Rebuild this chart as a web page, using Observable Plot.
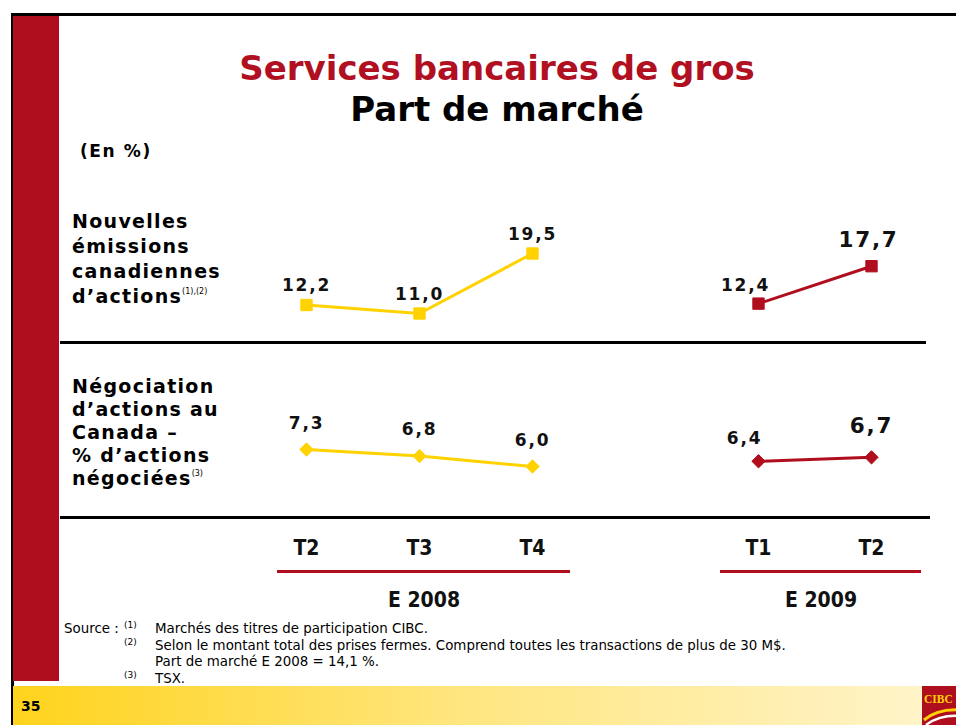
<!DOCTYPE html>
<html>
<head>
<meta charset="utf-8">
<script src="https://cdn.jsdelivr.net/npm/d3@7"></script>
<script src="https://cdn.jsdelivr.net/npm/@observablehq/plot@0.6"></script>
<style>
html, body { margin: 0; padding: 0; background: #fff; }
#slide { position: relative; width: 956px; height: 725px; overflow: hidden; font-family: "DejaVu Sans", Verdana, sans-serif; color: #000; }
.abs { position: absolute; white-space: nowrap; }
.title { left: 97px; width: 800px; text-align: center; font-weight: bold; font-size: 34px; line-height: 34px; }
.lab { left: 72px; font-weight: bold; font-size: 19px; letter-spacing: 1.3px; }
.lab sup { font-size: 8px; font-weight: normal; letter-spacing: 0; vertical-align: 9px; line-height: 0; }
.note { font-size: 13.4px; line-height: 14px; }
.sup { font-size: 9px; line-height: 10px; }
.plotwrap { position: absolute; left: 0; }
.plotwrap svg { overflow: visible; }
</style>
</head>
<body>
<div id="slide">
  <div class="abs" style="left:11px;top:13px;width:945px;height:3px;background:#000"></div>
  <div class="abs" style="left:11px;top:13px;width:2.5px;height:712px;background:#000"></div>
  <div class="abs" style="left:13px;top:16px;width:46px;height:665px;background:#AF0E1F"></div>
  <div class="abs" style="left:13px;top:686px;width:909px;height:39px;background:linear-gradient(to right,#FFD31C,#FFE680 50%,#FFF4C8)"></div>
  <div class="abs" style="left:21px;top:699px;font-weight:bold;font-size:14px;line-height:14px">35</div>
  <svg class="abs" style="left:922px;top:686px" width="34" height="39">
    <rect width="34" height="39" fill="#AF0E1F"/>
    <text x="2" y="17" font-family="Liberation Serif, serif" font-weight="bold" font-size="11.5" fill="#FFD200">CIBC</text>
    <path d="M2 34 Q16 22 40 24" stroke="#FFD200" stroke-width="3" fill="none"/>
    <path d="M4 39 Q18 28 40 30" stroke="#fff" stroke-width="2.5" fill="none"/>
  </svg>

  <div class="abs title" style="top:51px;color:#B0101F">Services bancaires de gros</div>
  <div class="abs title" style="top:92px">Part de marché</div>
  <div class="abs" style="left:80px;top:143px;font-weight:bold;font-size:17px;line-height:17px;letter-spacing:1.6px">(En %)</div>

  <div class="abs lab" style="top:209px;line-height:25px">Nouvelles<br>émissions<br>canadiennes<br>d’actions<sup>(1),(2)</sup></div>
  <div class="abs lab" style="top:375px;line-height:23px">Négociation<br>d’actions au<br>Canada –<br>% d’actions<br>négociées<sup>(3)</sup></div>

  <div class="abs" style="left:60px;top:341px;width:866px;height:3px;background:#000"></div>
  <div class="abs" style="left:60px;top:516px;width:870px;height:3px;background:#000"></div>

  <div class="abs note" style="left:64px;top:622px">Source :</div>
  <div class="abs sup" style="left:124px;top:620px">(1)</div>
  <div class="abs note" style="left:155px;top:622px">Marchés des titres de participation CIBC.</div>
  <div class="abs sup" style="left:124px;top:637px">(2)</div>
  <div class="abs note" style="left:155px;top:639px">Selon le montant total des prises fermes. Comprend toutes les transactions de plus de 30 M$.</div>
  <div class="abs note" style="left:155px;top:655px">Part de marché E 2008 = 14,1 %.</div>
  <div class="abs sup" style="left:124px;top:670px">(3)</div>
  <div class="abs note" style="left:155px;top:672px">TSX.</div>

  <div id="p1" class="plotwrap" style="top:200px"></div>
  <div id="p2" class="plotwrap" style="top:380px"></div>
  <div id="p3" class="plotwrap" style="top:525px"></div>
</div>
<script>
// ---- data ----
const quarters = ["T2 2008", "T3 2008", "T4 2008", "", "T1 2009", "T2 2009"];
const quarterLabels = ["T2", "T3", "T4", "", "T1", "T2"];
const years = ["E 2008", "E 2008", "E 2008", "", "E 2009", "E 2009"];
const fiscalYears = ["E 2008", "E 2009"];
const emissions = [12.2, 11.0, 19.5, null, 12.4, 17.7];     // Nouvelles émissions canadiennes d'actions
const negociation = [7.3, 6.8, 6.0, null, 6.4, 6.7];        // Négociation d'actions au Canada

// ---- drawing ----
const YELLOW = "#FFD200", RED = "#B00E1F";
const fmt = v => d3.format(".1f")(v).replace(".", ",");
const xOpts = {type: "point", domain: quarters, range: [306, 871], padding: 0, axis: null};

function rowsOf(values) {
  return quarters.map((q, i) => ({q, label: quarterLabels[i], year: years[i], v: values[i]}))
                 .filter(d => d.v != null);
}

function panel(values, o) {
  const rows = rowsOf(values);
  const txt = {x: "q", y: "v", text: d => fmt(d.v), fontFamily: "DejaVu Sans", fontWeight: "bold", fill: "#111"};
  return Plot.plot({
    width: 956, height: o.height, margin: 0,
    style: {background: "transparent", letterSpacing: "1.8px"},
    x: xOpts,
    y: {domain: d3.extent(values), range: o.yRange, axis: null},
    color: {domain: fiscalYears, range: [YELLOW, RED]},
    marks: [
      Plot.line(rows, {x: "q", y: "v", z: "year", stroke: "year", strokeWidth: 3}),
      Plot.dot(rows, {x: "q", y: "v", fill: "year", stroke: "year", strokeWidth: 1, symbol: o.symbol, r: o.r}),
      Plot.text(rows.filter(d => d.year === "E 2008"), {...txt, fontSize: 17, dy: o.dy2008}),
      Plot.text(rows.filter(d => d.q === "T1 2009"), {...txt, fontSize: 17, dy: o.dyT1, dx: o.dxT1}),
      Plot.text(rows.filter(d => d.q === "T2 2009"), {...txt, fontSize: 21.5, dy: o.dyT2, dx: o.dxT2})
    ]
  });
}

document.getElementById("p1").append(panel(emissions, {
  height: 140, yRange: [113, 53], symbol: "square", r: 6.4,
  dy2008: -19, dyT1: -18, dxT1: -13, dyT2: -26, dxT2: -3
}));
document.getElementById("p2").append(panel(negociation, {
  height: 110, yRange: [86, 69], symbol: "diamond2", r: 6,
  dy2008: -26, dyT1: -23, dxT1: -14, dyT2: -31, dxT2: 0
}));

// axis: quarters, fiscal-year underlines and labels
const axisRows = quarters.map((q, i) => ({q, label: quarterLabels[i]})).filter(d => d.label);
const groups = fiscalYears.map(y => {
  const qs = quarters.filter((q, i) => years[i] === y);
  return {year: y, first: qs[0], last: qs[qs.length - 1]};
});
const g08 = groups.filter(g => g.year === "E 2008"), g09 = groups.filter(g => g.year === "E 2009");
const axisFont = {fontFamily: "DejaVu Sans Condensed, DejaVu Sans", fontWeight: "bold", fontSize: 21, fill: "#111"};
document.getElementById("p3").append(Plot.plot({
  width: 956, height: 95, margin: 0,
  style: {background: "transparent"},
  x: xOpts,
  y: {type: "point", domain: ["trimestre", "trait", "exercice"], range: [23, 75], padding: 0, axis: null},
  marks: [
    Plot.text(axisRows, {x: "q", y: () => "trimestre", text: "label", ...axisFont}),
    Plot.ruleY(g08, {x1: "first", x2: "last", y: () => "trait", dy: -3, stroke: RED, strokeWidth: 3, insetLeft: -29, insetRight: -38}),
    Plot.ruleY(g09, {x1: "first", x2: "last", y: () => "trait", dy: -3, stroke: RED, strokeWidth: 3, insetLeft: -38, insetRight: -50}),
    Plot.text(g08, {x: "first", y: () => "exercice", text: "year", dx: 117.5, ...axisFont}),
    Plot.text(g09, {x: "first", y: () => "exercice", text: "year", dx: 62.5, ...axisFont})
  ]
}));
</script>
</body>
</html>
